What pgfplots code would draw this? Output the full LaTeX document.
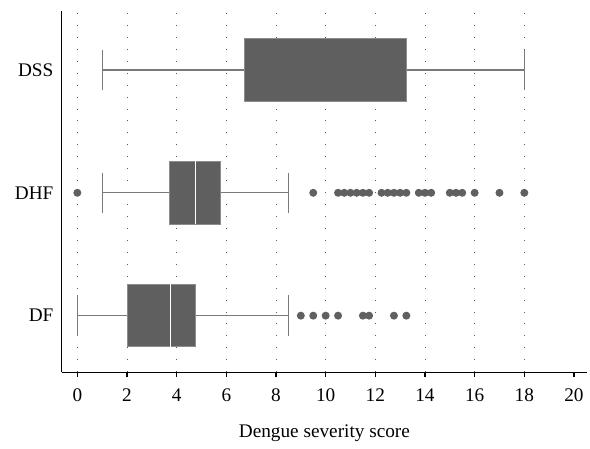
\documentclass[border=0pt]{standalone}
\usepackage{pgfplots}
\pgfplotsset{compat=1.18}
\usepgfplotslibrary{statistics}
\usepackage{fontspec}
\setmainfont{Liberation Serif}
\definecolor{boxgray}{HTML}{5E5F5E}
\definecolor{edgegray}{HTML}{8C8C8C}
\definecolor{whiskgray}{HTML}{7A7A7A}
\definecolor{dotgray}{HTML}{606060}
\pgfplotsset{
  mybox/.style={
    draw=edgegray, fill=boxgray, line width=0.75pt, solid,
    mark=*, mark size=2.6pt, mark options={fill=dotgray, draw=dotgray, solid},
    boxplot/every box/.style={draw=edgegray, fill=boxgray, line width=0.75pt},
    boxplot/every whisker/.style={draw=whiskgray, line width=0.9pt},
    boxplot/every median/.style={draw=white, line width=1pt},
  }
}
\begin{document}
\fontsize{14.5}{17}\selectfont
\begin{tikzpicture}
\begin{axis}[
  scale only axis, width=396pt, height=272.25pt,
  xmin=-0.63, xmax=20.53, ymin=0.54, ymax=3.48,
  axis lines*=left,
  axis line style={black, line width=0.8pt},
  xtick={0,2,...,20}, ytick={1,2,3}, yticklabels={DF,DHF,DSS},
  tick align=outside, major tick length=3.75pt,
  x tick style={black, line width=0.8pt},
  y tick style={draw=none},
  extra x ticks={0,2,...,18}, extra x tick labels={},
  extra x tick style={grid=major, tick style={draw=none}},
  grid style={dash pattern=on 0.7pt off 8.3pt, black!65, line width=0.7pt},
  /pgf/number format/assume math mode=true,
  tick label style={font=\fontsize{14.5}{17}\selectfont},
  xticklabel style={yshift=-4pt},
  yticklabel style={xshift=2.5pt},
  xlabel={Dengue severity score},
  xlabel style={font=\fontsize{14.5}{17}\selectfont, at={(axis description cs:0.5,0)}, anchor=base, yshift=-49.5pt},
  boxplot/draw direction=x, boxplot/box extend=0.51, boxplot/whisker extend=0.33,
  clip=false,
]
\addplot[mybox, boxplot prepared={draw position=1, lower whisker=0, lower quartile=2, median=3.75, upper quartile=4.77, upper whisker=8.5}]
  table[row sep=\\, y index=0] {v\\ 9\\ 9.5\\ 10\\ 10.5\\ 11.5\\ 11.75\\ 12.75\\ 13.25\\};
\addplot[mybox, boxplot prepared={draw position=2, lower whisker=1, lower quartile=3.73, median=4.75, upper quartile=5.77, upper whisker=8.5}]
  table[row sep=\\, y index=0] {v\\ 0\\ 9.5\\ 10.5\\ 10.75\\ 11\\ 11.25\\ 11.5\\ 11.75\\ 12.25\\ 12.5\\ 12.75\\ 13\\ 13.25\\ 13.75\\ 14\\ 14.25\\ 15\\ 15.25\\ 15.5\\ 16\\ 17\\ 18\\};
\addplot[mybox, boxplot/every median/.style={draw=none}, boxplot prepared={draw position=3, lower whisker=1, lower quartile=6.73, median=10, upper quartile=13.25, upper whisker=18}]
  coordinates {};
\path (rel axis cs:0,0) ++(-46.5pt,-51pt) coordinate (bbsw);
\path (rel axis cs:1,1) ++(0pt,8.25pt) coordinate (bbne);
\end{axis}
\path (bbsw) rectangle (bbne);
\end{tikzpicture}
\end{document}
